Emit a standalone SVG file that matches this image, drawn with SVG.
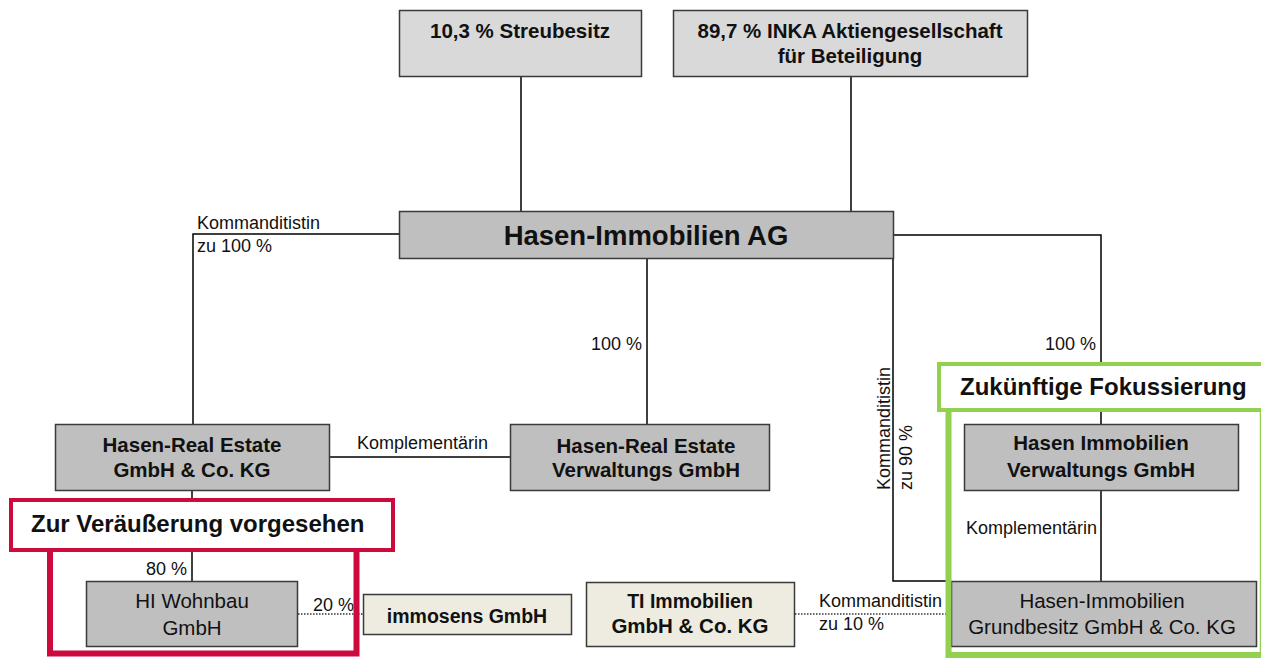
<svg xmlns="http://www.w3.org/2000/svg" width="1261" height="658" viewBox="0 0 1261 658">
<style>
text{font-family:"Liberation Sans",Arial,sans-serif;fill:#111}
.b{font-weight:bold;font-size:20.5px;text-anchor:middle}
.n{font-size:20.5px;text-anchor:middle}
.s{font-size:18px}
.box{stroke:#3a3a3a;stroke-width:1.5}
.g1{fill:#d9d9d9}
.g2{fill:#bfbfbf}
.bg{fill:#eeece1}
.ln{fill:none;stroke:#000;stroke-width:1.5}
.dot{fill:none;stroke:#333;stroke-width:1.3;stroke-dasharray:1.5 1.5}
.lab{font-weight:bold;font-size:24px}
</style>
<rect width="1261" height="658" fill="#fff"/>
<g id="connectors">
<path class="ln" d="M521 77V211"/>
<path class="ln" d="M851 77V211"/>
<path class="ln" d="M399 234H193V424"/>
<path class="ln" d="M647 259V424"/>
<path class="ln" d="M894 235H1101V424"/>
<path class="ln" d="M893 259V581H951"/>
<path class="ln" d="M192 491V581"/>
<path class="ln" d="M329 457H511"/>
<path class="ln" d="M1101 491V581"/>
<path class="dot" d="M298 614H363"/>
<path class="dot" d="M795 614H951"/>
</g>
<g id="labels">
<text class="s" x="197" y="229">Kommanditistin</text>
<text class="s" x="197" y="252">zu 100 %</text>
<text class="s" x="642" y="350" text-anchor="end">100 %</text>
<text class="s" x="1096" y="350" text-anchor="end">100 %</text>
<text class="s" x="357" y="449">Komplementärin</text>
<text class="s" transform="translate(890,490) rotate(-90)">Kommanditistin</text>
<text class="s" transform="translate(912,490) rotate(-90)">zu 90 %</text>
<text class="s" x="187" y="575" text-anchor="end">80 %</text>
<text class="s" x="313" y="611">20 %</text>
<text class="s" x="819" y="607">Kommanditistin</text>
<text class="s" x="819" y="630">zu 10 %</text>
<text class="s" x="966" y="534">Komplementärin</text>
</g>
<g id="streubesitz">
<rect class="box g1" x="399.5" y="10.5" width="242" height="66"/>
<text class="b" x="520" y="38">10,3 % Streubesitz</text>
</g>
<g id="inka">
<rect class="box g1" x="673.5" y="10.5" width="354" height="66"/>
<text class="b" x="850" y="38">89,7 % INKA Aktiengesellschaft</text>
<text class="b" x="850" y="63">für Beteiligung</text>
</g>
<g id="hasen-ag">
<rect class="box g2" x="399.5" y="211.5" width="494" height="47"/>
<text class="b" x="646" y="245" style="font-size:27.5px">Hasen-Immobilien AG</text>
</g>
<g id="real-estate-kg">
<rect class="box g2" x="55.5" y="424.5" width="274" height="66"/>
<text class="b" x="192" y="452">Hasen-Real Estate</text>
<text class="b" x="192" y="477">GmbH &amp; Co. KG</text>
</g>
<g id="real-estate-verwaltung">
<rect class="box g2" x="510.5" y="424.5" width="259" height="66"/>
<text class="b" x="646" y="453">Hasen-Real Estate</text>
<text class="b" x="646" y="477">Verwaltungs GmbH</text>
</g>
<g id="hi-verwaltung">
<rect class="box g2" x="964.5" y="424.5" width="274" height="66"/>
<text class="b" x="1101" y="450">Hasen Immobilien</text>
<text class="b" x="1101" y="477">Verwaltungs GmbH</text>
</g>
<g id="hi-wohnbau">
<rect class="box g2" x="86.5" y="581.5" width="211" height="65"/>
<text class="n" x="192" y="608">HI Wohnbau</text>
<text class="n" x="192" y="635">GmbH</text>
</g>
<g id="immosens">
<rect class="box bg" x="363.5" y="594.5" width="208" height="40"/>
<text class="b" x="467" y="623" style="font-size:19.5px">immosens GmbH</text>
</g>
<g id="ti-immobilien">
<rect class="box bg" x="586.5" y="582.5" width="208" height="64"/>
<text class="b" x="690" y="608" style="font-size:19.5px">TI Immobilien</text>
<text class="b" x="690" y="633">GmbH &amp; Co. KG</text>
</g>
<g id="grundbesitz">
<rect class="box g2" x="951.5" y="581.5" width="305" height="65"/>
<text class="n" x="1102" y="608">Hasen-Immobilien</text>
<text class="n" x="1102" y="634">Grundbesitz GmbH &amp; Co. KG</text>
</g>
<g id="frame-sale">
<path d="M50 552V653.5H356.5V552" fill="none" stroke="#cc0a3e" stroke-width="6"/>
<rect x="11" y="500" width="382" height="50" fill="#fff" stroke="#cc0a3e" stroke-width="4"/>
<text class="lab" x="31" y="532">Zur Veräußerung vorgesehen</text>
</g>
<g id="frame-focus">
<path d="M948.5 412V655H1262" fill="none" stroke="#92d050" stroke-width="6"/>
<path d="M1260.5 412V658" fill="none" stroke="#92d050" stroke-width="1.5"/>
<rect x="939" y="364" width="326" height="46" fill="#fff" stroke="#92d050" stroke-width="4"/>
<text class="lab" x="960" y="395">Zukünftige Fokussierung</text>
</g>
</svg>
